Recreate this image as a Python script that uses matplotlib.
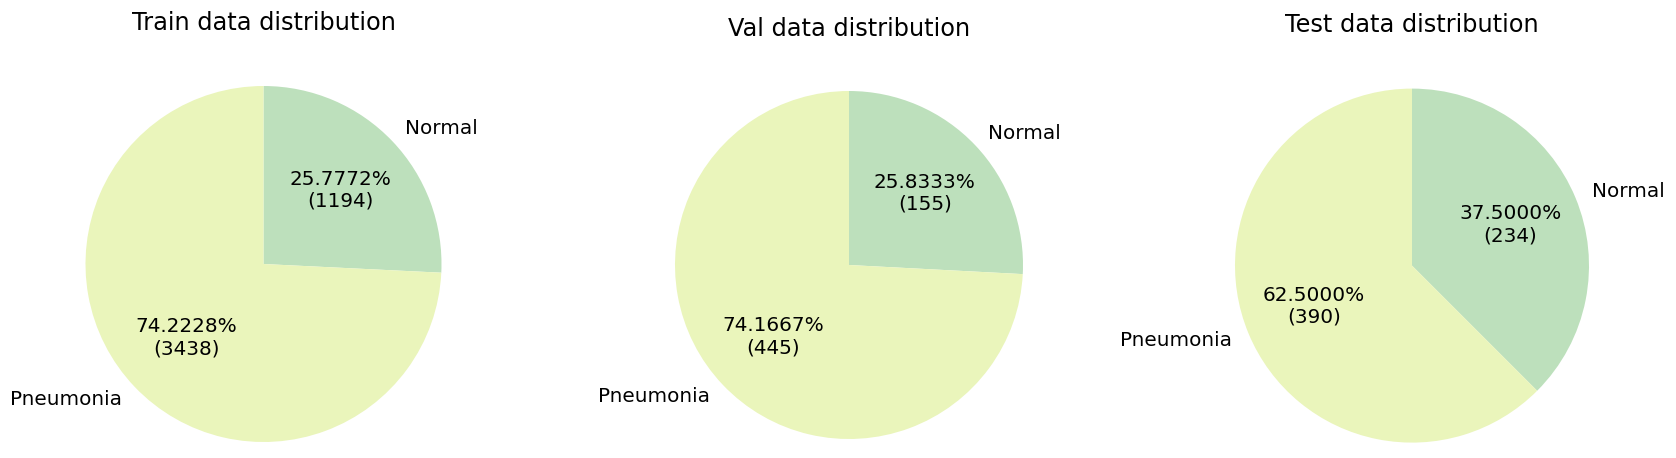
import matplotlib
matplotlib.use('Agg')
import matplotlib.pyplot as plt

# Данные: классы и количество снимков в каждой выборке
labels = ['Normal', 'Pneumonia']
train_counts = [1194, 3438]
val_counts = [155, 445]
test_counts = [234, 390]
titles = ['Train data distribution', 'Val data distribution', 'Test data distribution']
colors = ['#bde0bc', '#eaf5bb']

W, H, DPI = 1676, 458, 144
# центр пирога (px) и радиус (px) для каждой картинки
layout = [(263.5, 264.0, 178.0), (849.0, 265.0, 174.0), (1412.0, 265.6, 177.0)]


def make_autopct(counts):
    total = sum(counts)

    def fmt(pct):
        return '{:.4f}%\n({:d})'.format(pct, int(round(pct * total / 100)))
    return fmt


def main():
    fig = plt.figure(figsize=(W / DPI, H / DPI), dpi=DPI)
    for counts, title, (cx, cy, r) in zip([train_counts, val_counts, test_counts], titles, layout):
        side = 2.5 * r
        ax = fig.add_axes([(cx - side / 2) / W, (H - cy - side / 2) / H, side / W, side / H])
        ax.pie(counts, labels=labels, colors=colors, startangle=90, counterclock=False,
               autopct=make_autopct(counts))
        ax.set_title(title)
    fig.savefig('out.png', dpi=DPI)


if __name__ == '__main__':
    main()
